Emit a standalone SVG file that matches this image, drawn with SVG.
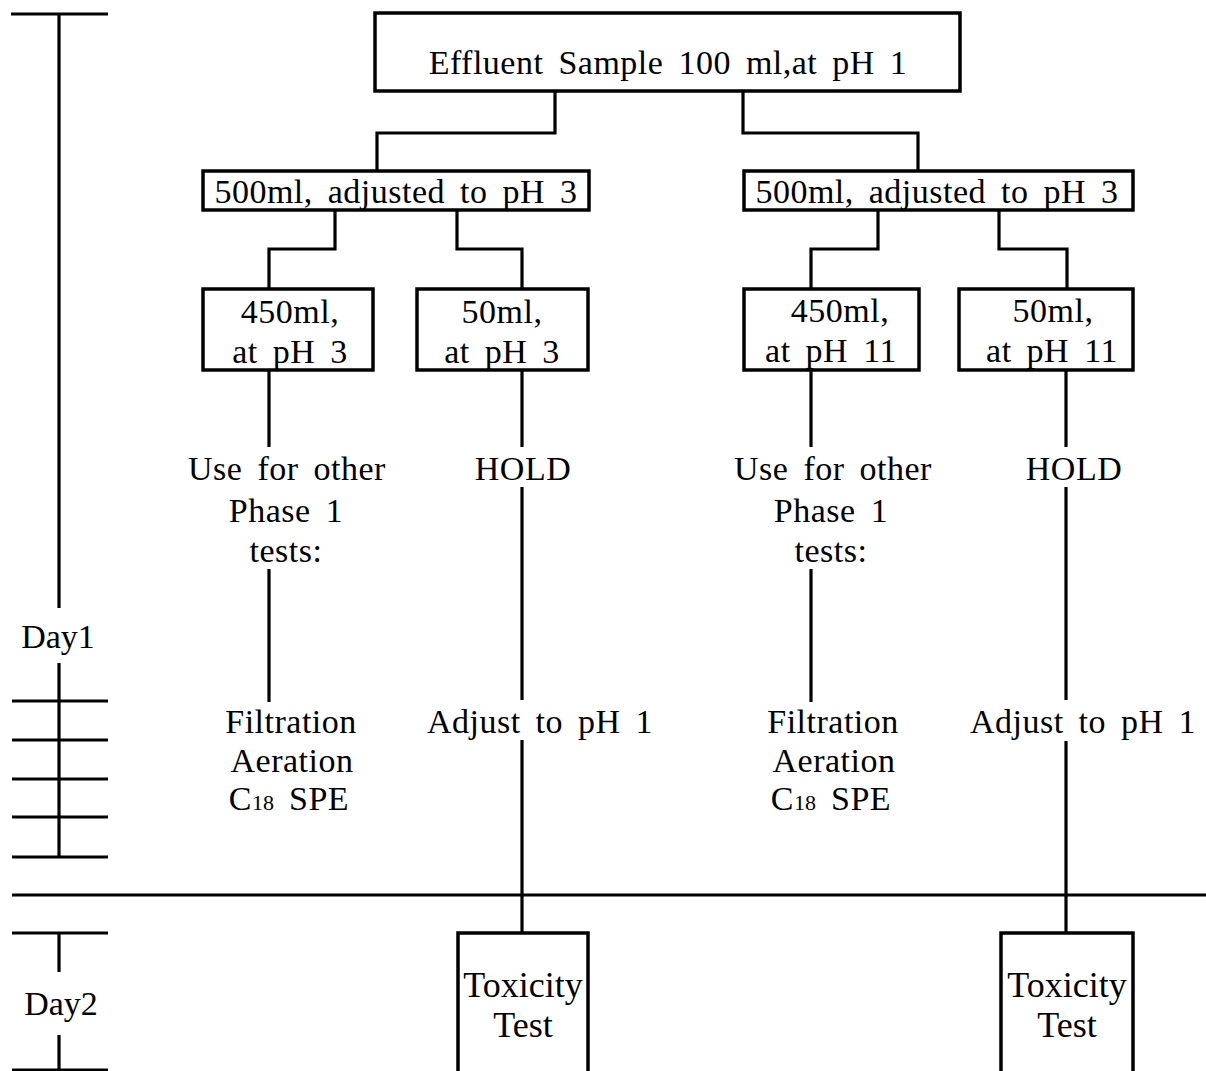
<svg xmlns="http://www.w3.org/2000/svg" width="1206" height="1071" viewBox="0 0 1206 1071">
<style>
.box{fill:#fff;stroke:#000;stroke-width:3.5}
.ln{fill:none;stroke:#000;stroke-width:3.2;stroke-linecap:butt;stroke-linejoin:miter}
text{font-family:'Liberation Serif','DejaVu Serif',serif;font-size:34px;fill:#000;text-anchor:middle;word-spacing:6px;letter-spacing:0.5px}
.tox{font-size:36px;letter-spacing:0;word-spacing:0}
.sub{font-size:22px;letter-spacing:0}
</style>
<rect width="1206" height="1071" fill="#fff"/>
<g id="timeline" class="ln">
<line x1="11" y1="14" x2="108" y2="14"/>
<line x1="59" y1="14" x2="59" y2="608"/>
<line x1="59" y1="663" x2="59" y2="857"/>
<line x1="12" y1="701" x2="108" y2="701"/>
<line x1="12" y1="740" x2="108" y2="740"/>
<line x1="12" y1="779" x2="108" y2="779"/>
<line x1="12" y1="817" x2="108" y2="817"/>
<line x1="12" y1="857" x2="108" y2="857"/>
<line x1="12" y1="895" x2="1206" y2="895"/>
<line x1="12" y1="933" x2="108" y2="933"/>
<line x1="59" y1="933" x2="59" y2="972"/>
<line x1="59" y1="1035" x2="59" y2="1071"/>
<line x1="12" y1="1070" x2="108" y2="1070"/>
</g>
<g id="day-labels">
<text x="58" y="648" font-family="Liberation Serif, DejaVu Serif, serif" style="letter-spacing:0;word-spacing:0">Day1</text>
<text x="61" y="1015" font-family="Liberation Serif, DejaVu Serif, serif" style="letter-spacing:0;word-spacing:0">Day2</text>
</g>
<g id="connectors" class="ln">
<polyline points="555,90 555,133 377,133 377,172"/>
<polyline points="743,90 743,133 918,133 918,172"/>
<polyline points="335,210 335,249 269,249 269,290"/>
<polyline points="457,210 457,249 522,249 522,290"/>
<polyline points="878,210 878,249 811,249 811,290"/>
<polyline points="999,210 999,249 1067,249 1067,290"/>
<line x1="269" y1="370" x2="269" y2="447"/>
<line x1="269" y1="569" x2="269" y2="702"/>
<line x1="522" y1="370" x2="522" y2="447"/>
<line x1="522" y1="487" x2="522" y2="700"/>
<line x1="522" y1="740" x2="522" y2="933"/>
<line x1="811" y1="370" x2="811" y2="447"/>
<line x1="811" y1="569" x2="811" y2="702"/>
<line x1="1066" y1="370" x2="1066" y2="447"/>
<line x1="1066" y1="487" x2="1066" y2="700"/>
<line x1="1066" y1="741" x2="1066" y2="933"/>
</g>
<g id="n-effluent">
<rect class="box" x="375" y="13" width="585" height="78"/>
<text x="668" y="74">Effluent Sample 100 ml,at pH 1</text>
</g>
<g id="n-500-left">
<rect class="box" x="203" y="171" width="386" height="39"/>
<text x="396" y="203">500ml, adjusted to pH 3</text>
</g>
<g id="n-500-right">
<rect class="box" x="744" y="171" width="389" height="39"/>
<text x="937" y="203">500ml, adjusted to pH 3</text>
</g>
<g id="n-450-ph3">
<rect class="box" x="203" y="289" width="170" height="81"/>
<text x="290" y="323">450ml,</text>
<text x="290" y="363">at pH 3</text>
</g>
<g id="n-50-ph3">
<rect class="box" x="417" y="289" width="171" height="81"/>
<text x="502" y="323">50ml,</text>
<text x="502" y="363">at pH 3</text>
</g>
<g id="n-450-ph11">
<rect class="box" x="744" y="289" width="175" height="81"/>
<text x="840" y="322">450ml,</text>
<text x="831" y="362">at pH 11</text>
</g>
<g id="n-50-ph11">
<rect class="box" x="959" y="289" width="174" height="81"/>
<text x="1053" y="322">50ml,</text>
<text x="1052" y="362">at pH 11</text>
</g>
<g id="n-use-left">
<text x="287" y="480">Use for other</text>
<text x="286" y="522">Phase 1</text>
<text x="286" y="562">tests:</text>
</g>
<g id="n-hold-left">
<text x="523" y="480">HOLD</text>
</g>
<g id="n-use-right">
<text x="833" y="480">Use for other</text>
<text x="831" y="522">Phase 1</text>
<text x="831" y="562">tests:</text>
</g>
<g id="n-hold-right">
<text x="1074" y="480">HOLD</text>
</g>
<g id="n-tests-left">
<text x="291" y="733">Filtration</text>
<text x="292" y="772">Aeration</text>
<text x="289" y="810">C<tspan class="sub">18</tspan> SPE</text>
</g>
<g id="n-adjust-left">
<text x="540" y="733">Adjust to pH 1</text>
</g>
<g id="n-tests-right">
<text x="833" y="733">Filtration</text>
<text x="834" y="772">Aeration</text>
<text x="831" y="810">C<tspan class="sub">18</tspan> SPE</text>
</g>
<g id="n-adjust-right">
<text x="1083" y="733">Adjust to pH 1</text>
</g>
<g id="n-tox-left">
<rect class="box" x="458" y="933" width="130" height="150"/>
<text class="tox" x="523" y="997">Toxicity</text>
<text class="tox" x="523" y="1037">Test</text>
</g>
<g id="n-tox-right">
<rect class="box" x="1001" y="933" width="132" height="150"/>
<text class="tox" x="1067" y="997">Toxicity</text>
<text class="tox" x="1067" y="1037">Test</text>
</g>
</svg>
